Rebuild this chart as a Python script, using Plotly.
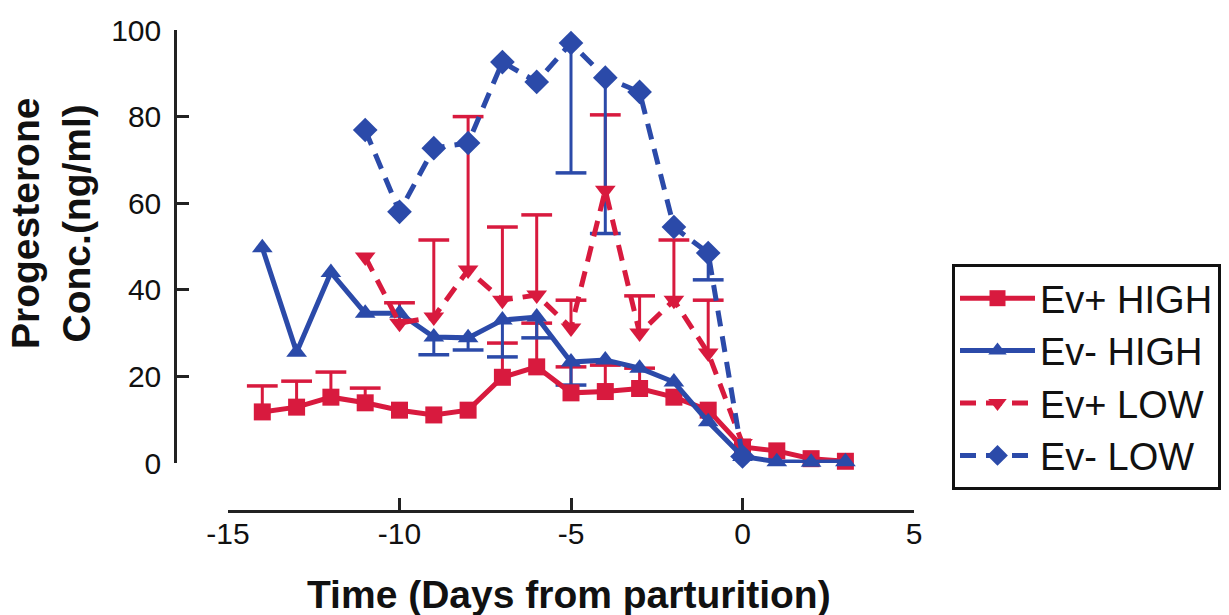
import plotly.graph_objects as go

# Days relative to parturition
days_high = [-14, -13, -12, -11, -10, -9, -8, -7, -6, -5, -4, -3, -2, -1, 0, 1, 2, 3]
days_low = [-11, -10, -9, -8, -7, -6, -5, -4, -3, -2, -1, 0]

# Progesterone concentration (ng/ml)
ev_pos_high = [11.8, 12.9, 15.2, 13.9, 12.2, 11.1, 12.2, 19.8, 22.2, 16.2, 16.5, 17.2, 15.2, 12.2, 3.7, 2.8, 1.0, 0.4]
ev_neg_high = [49.7, 25.6, 44.0, 34.6, 34.6, 29.1, 28.9, 33.0, 33.7, 23.3, 23.8, 21.9, 18.7, 9.5, 1.5, 0.3, 0.2, 0.3]
ev_pos_low = [47.6, 32.3, 33.7, 44.6, 37.6, 38.8, 31.2, 63.0, 30.0, 37.6, 25.4, 4.5]
ev_neg_low = [76.9, 58.0, 72.7, 73.9, 92.6, 88.0, 97.0, 89.0, 85.7, 54.5, 48.5, 1.5]

# Standard errors (drawn one-sided: Ev+ upward, Ev- downward)
se_pos_high = [6.0, 6.0, 5.8, 3.4, 0, 0, 0, 7.9, 10.1, 6.0, 6.1, 4.7, 0, 0, 0, 0, 0, 0]
se_neg_high = [0, 0, 0, 0, 0, 4.1, 2.8, 8.5, 4.8, 5.3, 0, 0, 0, 0, 0, 0, 0, 0]
se_pos_low = [0, 4.7, 17.8, 35.4, 16.9, 18.5, 6.4, 17.4, 8.6, 13.9, 12.2, 0]
se_neg_low = [0, 0, 0, 0, 0, 0, 30.0, 36.0, 0, 0, 6.2, 0]

x_ticks = [-15, -10, -5, 0, 5]
y_ticks = [0, 20, 40, 60, 80, 100]

RED = "#d81a3e"
BLUE = "#2b4aa9"
INK = "#111111"
FONT = "Liberation Sans, Arial, Helvetica, sans-serif"

fig = go.Figure()


def whiskers(days, vals, errs, sign, color):
    """One-sided error bars: a stem from the mean plus a flat cap at its end."""
    sx, sy, cx, cy = [], [], [], []
    for d, v, e in zip(days, vals, errs):
        if e <= 0:
            continue
        end = v + sign * e
        sx += [d, d, None]
        sy += [v, end, None]
        cx.append(d)
        cy.append(end)
    fig.add_trace(go.Scatter(x=sx, y=sy, mode="lines", showlegend=False,
                             line=dict(color=color, width=3), hoverinfo="skip",
                             cliponaxis=False))
    fig.add_trace(go.Scatter(x=cx, y=cy, mode="markers", showlegend=False,
                             marker=dict(symbol="line-ew", size=22,
                                         line=dict(color=color, width=3.5)),
                             hoverinfo="skip", cliponaxis=False))


whiskers(days_high, ev_pos_high, se_pos_high, 1, RED)
whiskers(days_high, ev_neg_high, se_neg_high, -1, BLUE)
whiskers(days_low, ev_pos_low, se_pos_low, 1, RED)
whiskers(days_low, ev_neg_low, se_neg_low, -1, BLUE)

series = [
    ("Ev+ HIGH", days_high, ev_pos_high, RED, "solid", "square", 17),
    ("Ev- HIGH", days_high, ev_neg_high, BLUE, "solid", "triangle-up", 18),
    ("Ev+ LOW", days_low, ev_pos_low, RED, "16px,10px", "triangle-down", 18),
    ("Ev- LOW", days_low, ev_neg_low, BLUE, "16px,10px", "diamond", 19),
]
for name, xs, ys, color, dash, symbol, size in series:
    fig.add_trace(go.Scatter(
        x=xs, y=ys, name=name, legendgroup=name, mode="lines+markers",
        line=dict(color=color, width=5, dash=dash),
        marker=dict(symbol=symbol, size=size, color=color),
        cliponaxis=False,
    ))

W, H = 1229, 615
fig.update_layout(
    template="none",
    width=W, height=H,
    margin=dict(l=0, r=0, t=0, b=0, autoexpand=False),
    paper_bgcolor="white", plot_bgcolor="white",
    font=dict(family=FONT, color=INK),
    showlegend=True,
    legend=dict(
        x=952 / W, y=1 - 264 / H, xanchor="left", yanchor="top",
        bordercolor=INK, borderwidth=3, bgcolor="white",
        font=dict(family=FONT, size=38, color=INK),
        tracegroupgap=18, itemwidth=75, traceorder="normal",
    ),
    xaxis=dict(
        domain=[228 / W, 914 / W], range=[-15, 5],
        anchor="free", position=1 - 511 / H, automargin=False,
        tickvals=x_ticks, ticktext=[str(v) for v in x_ticks],
        ticks="inside", ticklen=12, tickwidth=3, tickcolor="#222222",
        showline=True, linewidth=3, linecolor="#222222",
        showgrid=False, zeroline=False,
        tickfont=dict(family=FONT, size=30, color=INK),
        ticklabelstandoff=-5,
    ),
    yaxis=dict(
        domain=[1 - 463 / H, 1 - 30 / H], range=[0, 100],
        anchor="free", position=175 / W, automargin=False,
        tickvals=y_ticks, ticktext=[str(v) for v in y_ticks],
        ticks="inside", ticklen=12, tickwidth=2.5, tickcolor="#222222",
        showline=True, linewidth=2.5, linecolor="#222222",
        showgrid=False, zeroline=False,
        tickfont=dict(family=FONT, size=30, color=INK),
        ticklabelstandoff=7,
    ),
    annotations=[
        dict(text="<b>Time (Days from parturition)</b>", xref="paper", yref="paper",
             x=569 / W, y=1 - 594 / H, xanchor="center", yanchor="middle",
             showarrow=False, font=dict(family=FONT, size=39, color=INK)),
        dict(text="<b>Progesterone<br>Conc.(ng/ml)</b>", xref="paper", yref="paper",
             x=51 / W, y=1 - 224 / H, xanchor="center", yanchor="middle",
             textangle=-90, showarrow=False,
             font=dict(family=FONT, size=39, color=INK)),
    ],
)

fig.write_html("out.html")
